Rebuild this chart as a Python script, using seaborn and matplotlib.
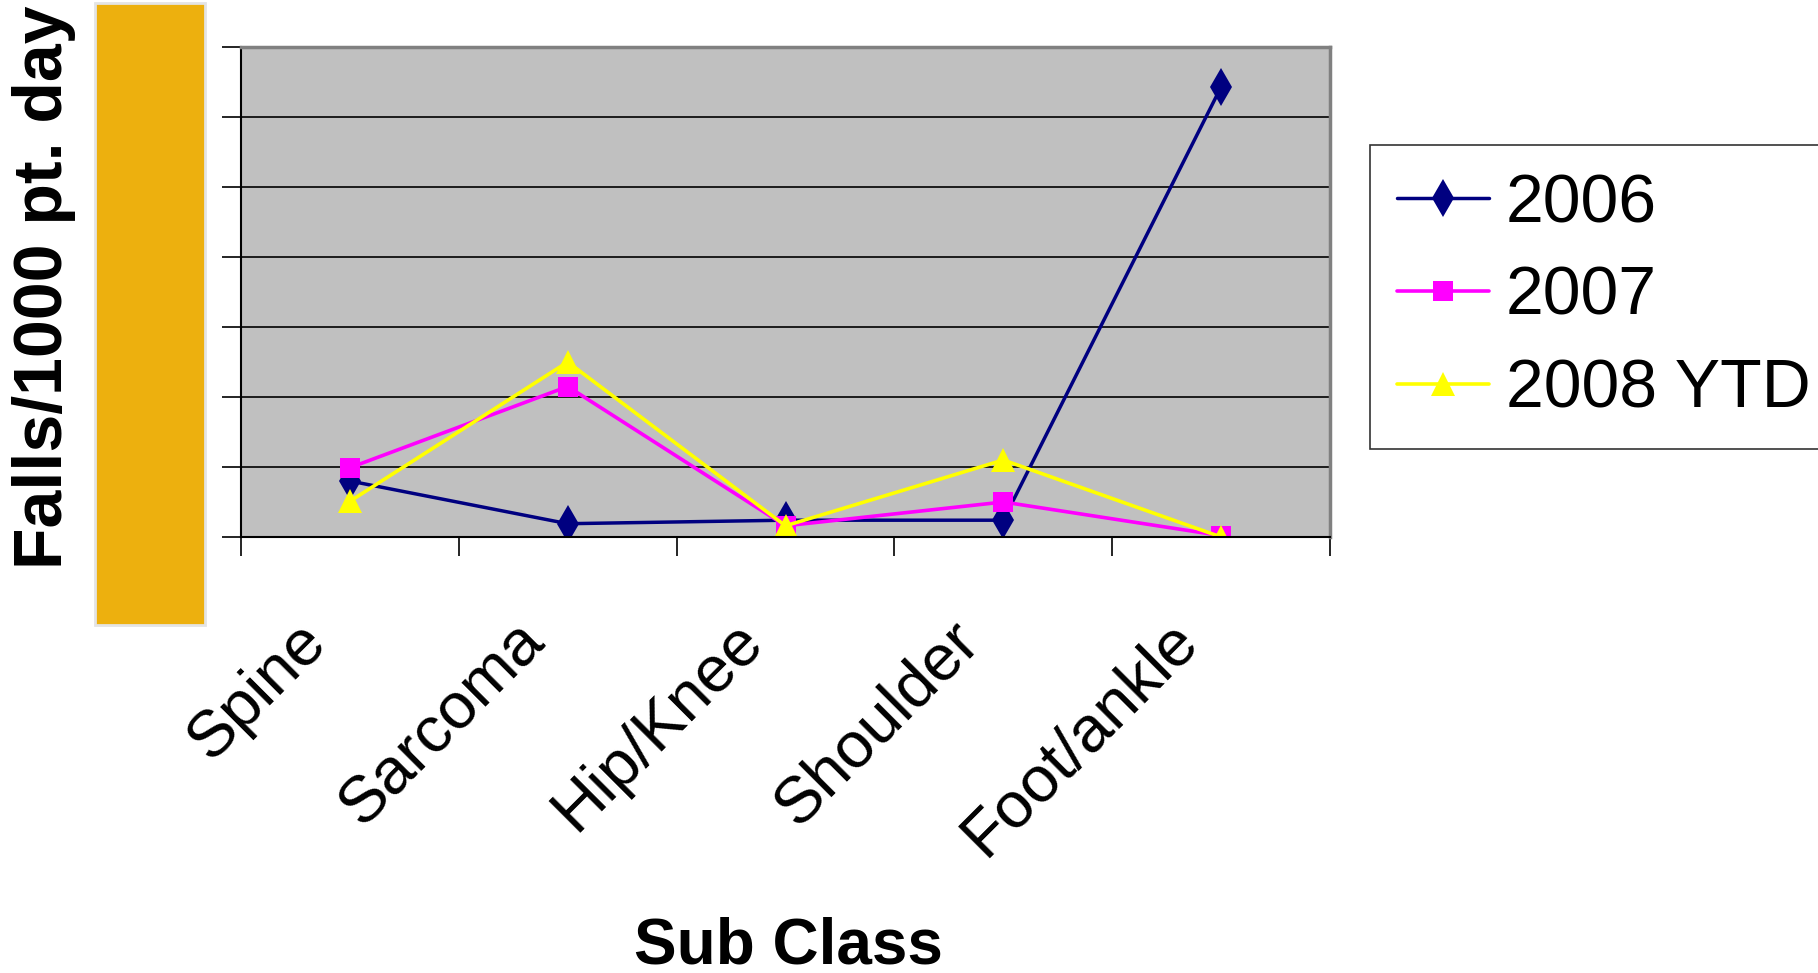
import matplotlib
matplotlib.use("Agg")
import matplotlib.pyplot as plt
import matplotlib.patches as mpatches
import pandas as pd
import seaborn as sns

# values (one gridline = 1 unit, axis 0..7)
CATEGORIES = ["Spine", "Sarcoma", "Hip/Knee", "Shoulder", "Foot/ankle"]
FALLS_2006 = [0.80, 0.19, 0.24, 0.24, 6.43]
FALLS_2007 = [0.99, 2.15, 0.16, 0.50, 0.02]
FALLS_2008 = [0.51, 2.50, 0.16, 1.10, 0.00]
SERIES_NAMES = ["2006", "2007", "2008 YTD"]

sns.set_theme(style="white")
plt.rcParams["font.family"] = ["Liberation Sans", "DejaVu Sans"]
plt.rcParams["text.color"] = "black"
plt.rcParams["xtick.color"] = "black"
plt.rcParams["ytick.color"] = "black"

rows = []
for name, vals in zip(SERIES_NAMES, [FALLS_2006, FALLS_2007, FALLS_2008]):
    for cat, v in zip(CATEGORIES, vals):
        rows.append({"subclass": cat, "falls": v, "series": name})
df = pd.DataFrame(rows)

styles = {
    "2006": dict(color="#000080", marker="d", markersize=19, lw=2.5),
    "2007": dict(color="#FF00FF", marker="s", markersize=14, lw=2.6),
    "2008 YTD": dict(color="#FFFF00", marker="^", markersize=17, lw=2.6),
}

fig = plt.figure(figsize=(18.18, 9.73), dpi=100)
ax = fig.add_axes([241 / 1818, 1 - 537 / 973, (1330 - 241) / 1818, (537 - 47) / 973])
ax.set_facecolor("#C0C0C0")

for name in SERIES_NAMES:
    st = styles[name]
    sns.lineplot(
        x="subclass", y="falls",
        data=df[df["series"] == name],
        sort=False,
        color=st["color"],
        marker=st["marker"],
        markersize=st["markersize"],
        markeredgewidth=0,
        linewidth=st["lw"],
        label=name,
        ax=ax,
    )

ax.set_xlim(-0.5, len(CATEGORIES) - 0.5)
ax.set_ylim(0, 7)
ax.set_yticks(range(0, 8))
ax.set_yticklabels([])
ax.grid(True, axis="y", color="black", linewidth=1.2)
ax.grid(False, axis="x")
ax.set_axisbelow(True)
ax.tick_params(axis="y", which="major", direction="out", length=14, width=1.2,
               color="black", left=True)

# label ticks (invisible) sit slightly left of the category centres, as in the original
ax.set_xticks([i - 0.15 for i in range(len(CATEGORIES))])
ax.set_xticklabels(CATEGORIES, rotation=45, ha="right", va="center",
                   rotation_mode="anchor", fontsize=47, color="black")
ax.set_xticks([i - 0.5 for i in range(len(CATEGORIES) + 1)], minor=True)
ax.tick_params(axis="x", which="major", length=0, pad=68)
ax.tick_params(axis="x", which="minor", direction="out", length=14, width=1.2,
               color="black", bottom=True)
ax.set_xlabel("")
ax.set_ylabel("")

for side in ["left", "bottom"]:
    ax.spines[side].set_color("black")
    ax.spines[side].set_linewidth(1.5)
for side in ["top", "right"]:
    ax.spines[side].set_color("#808080")
    ax.spines[side].set_linewidth(2.5)

# orange block covering the value labels
fig.patches.append(mpatches.Rectangle(
    (95 / 1818, 1 - 625 / 973), (205 - 95) / 1818, (625 - 3) / 973,
    transform=fig.transFigure, facecolor="#EDB00E", edgecolor="#E4E4E4",
    linewidth=2, zorder=5))

fig.text(44 / 1818, 1 - 287 / 973, "Falls/1000 pt. day", rotation=90,
         ha="center", va="center", fontsize=49, fontweight="bold")
fig.text(788 / 1818, 1 - 946 / 973, "Sub Class", ha="center", va="center",
         fontsize=46, fontweight="bold")

leg = ax.legend(loc="upper left", bbox_to_anchor=(1370 / 1818, 1 - 145 / 973),
                bbox_transform=fig.transFigure, fontsize=49, frameon=True,
                fancybox=False, edgecolor="black", borderpad=0.4,
                handlelength=1.35, handletextpad=0.25, labelspacing=0.42,
                borderaxespad=0)
leg.get_frame().set_linewidth(1.2)
for txt in leg.get_texts():
    txt.set_color("black")

fig.savefig("out.png", dpi=100)
